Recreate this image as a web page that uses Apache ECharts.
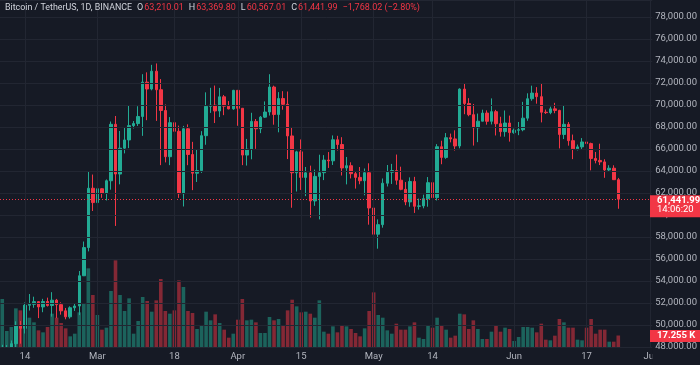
<!DOCTYPE html>
<html><head><meta charset="utf-8">
<script src="https://cdn.jsdelivr.net/npm/echarts@6/dist/echarts.min.js"></script>
<style>html,body{margin:0;padding:0;background:#161a25;}#c{width:700px;height:365px;}</style>
</head><body><div id="c"></div>
<script>
// ---------- data ----------
const symbolTitle = 'Bitcoin / TetherUS, 1D, BINANCE';
const countdown = '14:06:20';
const startDate = '2024-02-09';
const dayCount = 144; // Feb 9 .. Jul 1 (includes empty future days)

const opens = [
45288,47132,47751,48299,49918,49699,51795,51880,52124,51642,
52137,51774,52258,51849,51288,50744,51568,51728,54476,57037,
62432,61130,62387,61987,63113,68245,63724,66074,66823,68124,
68313,68955,72078,71452,73072,71388,69500,65300,68394,67609,
61937,67840,65501,63797,64037,67211,69880,69988,69455,70744,
69892,69645,71333,69702,65446,65980,68508,67837,68897,69362,
71632,69139,70587,70061,67188,63836,65739,63419,63831,61275,
63511,63844,64994,64927,66838,66408,64276,64482,63756,63419,
63114,63842,60637,58254,59123,62890,63892,64039,63162,62334,
61188,63049,60793,60826,61484,62940,61578,66207,65235,67025,
66916,66275,71447,70137,69122,67929,68527,69266,68519,69395,
68297,67578,68364,67491,67706,67752,68804,70568,71083,70757,
69343,69306,69648,69508,67322,68243,66757,66012,66191,66639,
66491,65140,64960,64829,64096,64253,63210.01];
const highs = [
48200,48170,48592,50334,50368,52043,52816,52572,52163,52377,
52488,52985,52371,52065,51548,51698,51958,54910,57588,64000,
63676,63114,62433,63231,68499,69000,67637,67985,69990,68541,
69888,72800,72969,73650,73777,72357,70044,68904,68567,68124,
68100,68240,66650,65974,67622,71150,71561,71769,71552,70913,
70355,71378,71342,69708,66915,69291,68725,69000,70327,72797,
71758,71172,71256,71227,67931,65840,66867,64365,64486,64125,
65481,65442,65723,67233,67199,67075,65275,64792,63914,64361,
64228,64700,60860,59603,63320,64545,64646,65495,64391,62995,
63421,63469,61490,61849,63450,63118,66444,66752,67451,67400,
67700,71515,71979,70624,70096,69221,69574,69513,70600,69557,
68930,69500,69036,67857,68456,70288,71063,71758,71625,71997,
69584,69850,70196,69565,69999,68451,67312,66402,66993,67298,
66579,65728,66482,65066,64526,64520,63369.80];
const lows = [
45242,46800,47557,47710,48300,49225,51314,51566,50625,51163,
51677,50760,50625,50940,50521,50585,51279,50901,54450,56691,
60364,60777,61561,61321,62300,59005,62787,65600,66082,67861,
68094,67194,68620,71333,68555,64533,64780,64533,66000,61555,
60775,64529,62260,63000,63826,66386,69281,68360,68903,69076,
69601,69567,68110,64533,64493,65064,66011,67440,68819,69041,
68210,67518,69572,65086,60660,62134,62274,61717,59768,60833,
59600,63172,64277,64548,65864,63589,62783,63322,62400,62794,
61793,59120,56552,56937,58849,62591,62822,62746,62250,60888,
60750,60187,60492,60607,60750,61142,61320,64616,65107,66601,
65858,66060,69162,68978,66312,66622,68516,68210,68233,67231,
67125,67119,66671,67387,67257,67613,68567,70384,70119,68420,
69182,69161,69250,66051,66903,66304,65078,65871,66000,65130,
64060,64694,64542,63380,63921,63180,60567.01];
const closes = [
47132,47751,48299,49918,49699,51795,51880,52124,51642,52137,
51774,52258,51849,51288,50744,51568,51728,54476,57037,62432,
61130,62387,61987,63113,68245,63724,66074,66823,68124,68313,
68955,72078,71452,73072,71388,69500,65300,68394,67609,61937,
67840,65501,63797,64037,67211,69880,69988,69455,70744,69892,
69645,71333,69702,65446,65980,68508,67837,68897,69362,71632,
69139,70587,70061,67188,63836,65739,63419,63831,61275,63511,
63844,64994,64927,66838,66408,64276,64482,63756,63419,63114,
63842,60637,58254,59123,62890,63892,64039,63162,62334,61188,
63049,60793,60826,61484,62940,61578,66207,65235,67025,66916,
66275,71447,70137,69122,67929,68527,69266,68519,69395,68297,
67578,68364,67491,67706,67752,68804,70568,71083,70757,69343,
69306,69648,69508,67322,68243,66757,66012,66191,66639,66491,
65140,64960,64829,64096,64253,63210.01,61441.99];
// volume in thousands (K)
const volumesK = [
72,24,30,58,55,63,44,37,25,22,
30,50,44,36,28,16,20,52,66,118,
78,48,26,29,84,130,78,54,73,20,
39,75,69,53,70,102,54,50,55,100,
90,54,51,27,32,53,40,49,36,26,
14,20,41,72,40,41,37,21,21,45,
40,42,32,55,71,61,52,53,50,44,
70,23,20,31,22,33,31,27,21,16,
28,54,82,48,44,25,20,35,26,26,
31,37,14,12,33,29,44,32,26,14,
17,50,49,27,40,27,12,12,23,32,
23,29,27,9,15,30,30,29,22,35,
11,10,17,42,37,29,29,11,10,29,
42,20,26,26,8,8,17.255];

const tickDates = ['2024-02-14','2024-03-01','2024-03-18','2024-04-01','2024-04-15','2024-05-01','2024-05-14','2024-06-01','2024-06-17','2024-07-01'];
const tickTexts = ['14','Mar','18','Apr','15','May','14','Jun','17','Jul'];

// ---------- styling ----------
const BG = '#161a25', GRID = '#222632', TXT = '#b2b5be';
const UP = '#22ab94', DOWN = '#f23645';
const VOL_UP = 'rgba(34,171,148,0.5)', VOL_DOWN = 'rgba(242,54,69,0.5)';
const FONT = 'Roboto, sans-serif';

const categories = [];
{
  const p = startDate.split('-').map(Number);
  const t0 = Date.UTC(p[0], p[1]-1, p[2]);
  for (let i = 0; i < dayCount; i++) {
    const d = new Date(t0 + i*86400000);
    categories.push(d.getUTCFullYear() + '-' + String(d.getUTCMonth()+1).padStart(2,'0') + '-' + String(d.getUTCDate()).padStart(2,'0'));
  }
}
const fmt = v => v.toLocaleString('en-US', {minimumFractionDigits:2, maximumFractionDigits:2});

const candleData = opens.map((o,i) => [o, closes[i], lows[i], highs[i]]);
const volData = volumesK.map((v,i) => ({value: v, itemStyle: {color: closes[i] >= opens[i] ? VOL_UP : VOL_DOWN}}));

const n = opens.length;
const lastO = opens[n-1], lastH = highs[n-1], lastL = lows[n-1], lastC = closes[n-1];
const prevC = closes[n-2];
const chg = lastC - prevC;
const pct = chg / prevC * 100;
const sgn = chg < 0 ? '\u2212' : '+';
const lastColor = lastC >= lastO ? UP : DOWN;

const chart = echarts.init(document.getElementById('c'));
chart.setOption({
  backgroundColor: BG,
  animation: false,
  textStyle: {fontFamily: FONT},
  grid: {left: -2.025, right: 46.8, top: 0, bottom: 18},
  xAxis: {
    type: 'category', data: categories, boundaryGap: true, z: 10,
    axisLine: {show: false}, axisTick: {show: false},
    axisLabel: {
      interval: (i, v) => tickDates.includes(v),
      formatter: v => tickTexts[tickDates.indexOf(v)],
      color: TXT, fontSize: 9.5, margin: 5, fontFamily: FONT
    },
    splitLine: {show: true, alignWithLabel: true, interval: (i, v) => tickDates.includes(v), lineStyle: {color: GRID, width: 1}}
  },
  yAxis: [{
    type: 'value', position: 'right', min: 48000, max: 79545, interval: 2000, z: 10,
    axisLine: {show: false}, axisTick: {show: false},
    axisLabel: {showMaxLabel: false, formatter: v => fmt(v), color: TXT, fontSize: 9.5, margin: 3, fontFamily: FONT},
    splitLine: {lineStyle: {color: GRID, width: 1}}
  }, {
    type: 'value', min: 0, max: 520.6, show: false, splitLine: {show: false}
  }],
  series: [{
    type: 'bar', yAxisIndex: 1, data: volData, barWidth: 3.6, silent: true, z: 1
  }, {
    type: 'candlestick', data: candleData, barWidth: 3, z: 2, clip: true,
    itemStyle: {color: UP, color0: DOWN, borderColor: UP, borderColor0: DOWN, borderWidth: 1},
    markLine: {
      silent: true, symbol: ['none','none'], animation: false,
      lineStyle: {color: lastColor, type: [1,2], width: 1},
      label: {show: false},
      data: [{yAxis: lastC}]
    }
  }]
});

const gridRect = chart.getModel().getComponent('grid', 0).coordinateSystem.getRect();
const py = chart.convertToPixel({yAxisIndex: 0}, lastC);
const vy = chart.convertToPixel({yAxisIndex: 1}, volumesK[n-1]);
const hdr = {fontSize: 9, fontFamily: FONT};
chart.setOption({
  graphic: [
    // mask the strip below the plot (partially clipped candles) — under the axis labels
    {type: 'rect', z: 5, shape: {x: 0, y: gridRect.y + gridRect.height, width: gridRect.x + gridRect.width, height: 365}, style: {fill: BG}},
    // price-scale corner mask
    {type: 'rect', z: 50, shape: {x: gridRect.x + gridRect.width, y: 349, width: 60, height: 16}, style: {fill: BG}},
    {type: 'text', z: 100, x: 5, y: 8, style: {
      text: '{t|' + symbolTitle + '}{k|O}{v|' + fmt(lastO) + '}{k|H}{v|' + fmt(lastH) + '}{k|L}{v|' + fmt(lastL) + '}{k|C}{v|' + fmt(lastC) + '}{c|' + sgn + fmt(Math.abs(chg)) + ' (' + sgn + Math.abs(pct).toFixed(2) + '%)}',
      verticalAlign: 'middle', fontFamily: FONT, fontSize: 9,
      rich: {
        t: Object.assign({fill: '#d1d4dc', fontSize: 8.9}, {fontFamily: FONT}),
        k: Object.assign({fill: '#d1d4dc', padding: [0, 1, 0, 5]}, hdr),
        v: Object.assign({fill: lastColor}, hdr),
        c: Object.assign({fill: lastColor, padding: [0, 0, 0, 5]}, hdr)
      }
    }},
    {type: 'rect', z: 101, shape: {x: 650, y: py - 4, width: 50, height: 22}, style: {fill: lastColor}},
    {type: 'text', z: 102, x: 657, y: py + 1, style: {text: fmt(lastC), fill: '#fff', fontSize: 9.5, fontWeight: 'bold', fontFamily: FONT, verticalAlign: 'middle'}},
    {type: 'text', z: 102, x: 657, y: py + 10.5, style: {text: countdown, fill: '#fff', fontSize: 9.5, fontFamily: FONT, verticalAlign: 'middle'}},
    {type: 'rect', z: 101, shape: {x: 650, y: vy - 5.5, width: 50, height: 12}, style: {fill: lastColor}},
    {type: 'text', z: 102, x: 657, y: vy + 0.5, style: {text: volumesK[n-1].toFixed(3) + ' K', fill: '#fff', fontSize: 9.5, fontWeight: 'bold', fontFamily: FONT, verticalAlign: 'middle'}}
  ]
});
</script></body></html>
